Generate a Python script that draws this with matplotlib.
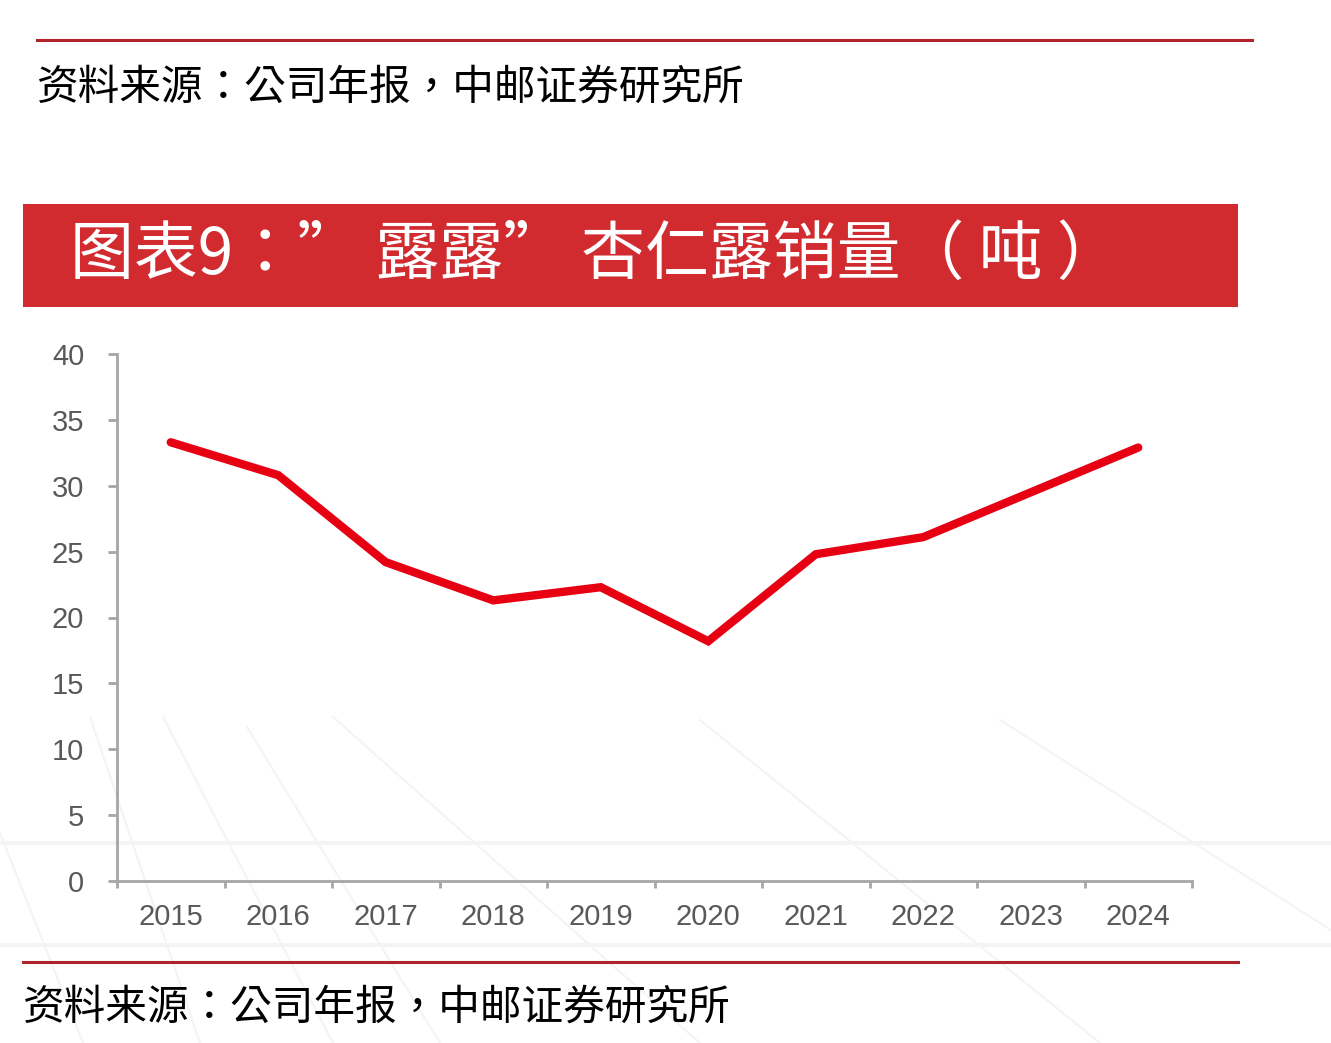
import matplotlib
matplotlib.use("Agg")
import matplotlib.pyplot as plt
from matplotlib.patches import Rectangle
from matplotlib.lines import Line2D
import numpy as np

plt.rcParams['font.family'] = ['Noto Sans CJK TC', 'DejaVu Sans']

# --- datos ---
anios = ["2015", "2016", "2017", "2018", "2019", "2020", "2021", "2022", "2023", "2024"]
ventas = [33.3, 30.8, 24.2, 21.3, 22.3, 18.2, 24.8, 26.1, 29.5, 32.9]
yticks = [0, 5, 10, 15, 20, 25, 30, 35, 40]

titulo = "图表9：” 露露” 杏仁露销量（ 吨 ）"
fuente = "资料来源：公司年报，中邮证券研究所"

W, H = 1331, 1043
fig = plt.figure(figsize=(W / 100, H / 100), dpi=100)

# fondo: lineas tenues de decoracion
fondo = "#F4F4F4"
for yy in [843, 945]:
    fig.add_artist(Line2D([0, 1], [1 - yy / H, 1 - yy / H], color=fondo, lw=3, zorder=0))
for (x0, y0, x1, y1) in [(0, 833, 83, 1043), (90, 717, 200, 1043), (163, 717, 333, 1043),
                         (247, 727, 440, 1043), (333, 717, 700, 1043), (700, 720, 1100, 1043),
                         (1000, 720, 1331, 930)]:
    fig.add_artist(Line2D([x0 / W, x1 / W], [1 - y0 / H, 1 - y1 / H], color=fondo, lw=1.5, zorder=0))

# cabecera: linea roja + fuente anterior
fig.add_artist(Line2D([37 / W, 1252 / W], [1 - 40 / H, 1 - 40 / H], color="#B0232A", lw=2.2))
fig.text(37 / W, 1 - 88 / H, fuente, fontsize=30, color="black", va="center", ha="left")

# barra del titulo
fig.add_artist(Rectangle((23 / W, 1 - 307 / H), (1238 - 23) / W, (307 - 204) / H,
                         facecolor="#D12B2F", edgecolor="none"))
fig.text(70 / W, 1 - 256 / H, titulo, fontsize=46, color="white", va="center", ha="left")

# pie
fig.add_artist(Line2D([23 / W, 1238 / W], [1 - 962 / H, 1 - 962 / H], color="#B0232A", lw=2.2))
fig.text(23 / W, 1 - 1008 / H, fuente, fontsize=30, color="black", va="center", ha="left")

# grafico
ax = fig.add_axes([117 / W, 1 - 881 / H, (1192 - 117) / W, (881 - 354) / H])
x = np.arange(len(anios))
ax.plot(x, ventas, color="#E60012", lw=6, solid_capstyle="round", solid_joinstyle="miter")

ax.set_xlim(-0.5, len(anios) - 0.5)
ax.set_ylim(0, 40)
ax.set_yticks(yticks)
ax.set_yticklabels([str(v) for v in yticks])
ax.set_xticks(x)
ax.set_xticklabels(anios)
ax.set_xticks(np.arange(-0.5, len(anios)), minor=True)

for s in ["top", "right"]:
    ax.spines[s].set_visible(False)
for s in ["left", "bottom"]:
    ax.spines[s].set_color("#A6A6A6")
    ax.spines[s].set_linewidth(2)

ax.tick_params(axis="y", direction="out", length=6.5, width=2, color="#A6A6A6",
               labelsize=21, labelcolor="#595959", pad=17)
ax.tick_params(axis="x", which="major", length=0, labelsize=21, labelcolor="#595959", pad=16)
ax.tick_params(axis="x", which="minor", direction="out", length=5, width=2, color="#A6A6A6")
for lab in ax.get_xticklabels() + ax.get_yticklabels():
    lab.set_family(["Liberation Sans", "DejaVu Sans"])
ax.patch.set_alpha(0)

fig.savefig("out.png", dpi=100)
